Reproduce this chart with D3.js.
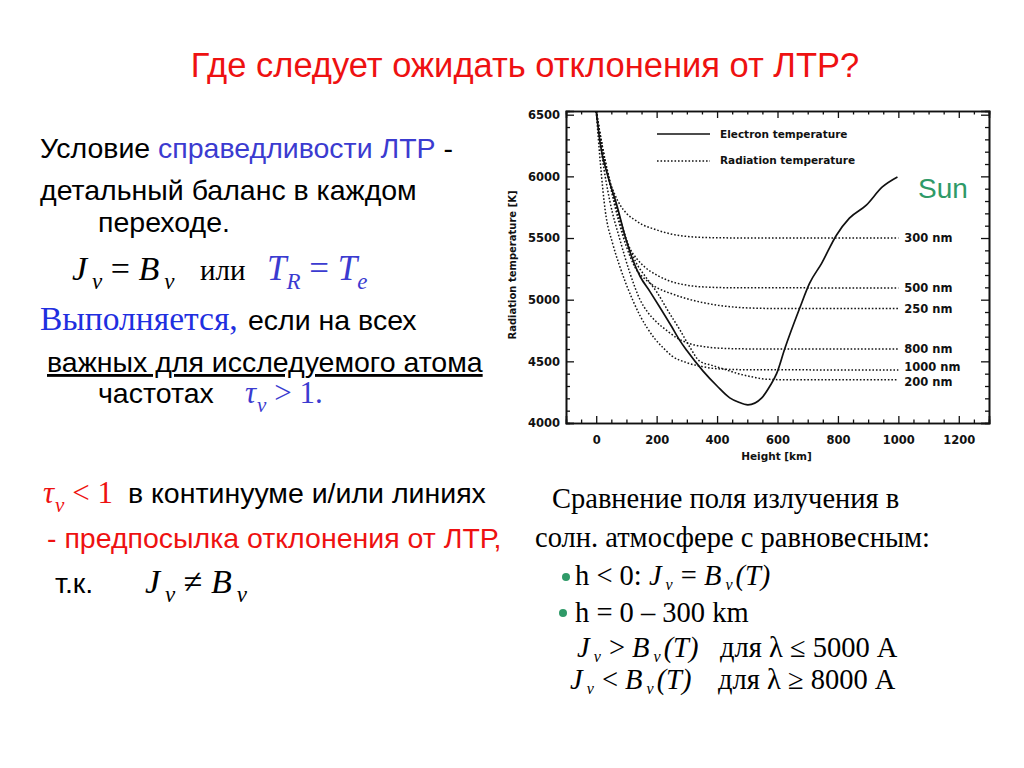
<!DOCTYPE html>
<html>
<head>
<meta charset="utf-8">
<script src="https://cdn.jsdelivr.net/npm/d3@7"></script>
<style>
  body { margin: 0; background: #fff; }
  svg { display: block; }
</style>
</head>
<body>
<div id="slide"></div>
<script>
// axis ticks
const xTicks = [0, 200, 400, 600, 800, 1000, 1200];
const yTicks = [4000, 4500, 5000, 5500, 6000, 6500];

// electron temperature [height km, T K]
const electronTemp = [
  [0, 6530], [13, 6270], [40, 5990], [69, 5760], [96, 5510], [120, 5330], [145, 5190],
  [178, 5065], [211, 4937], [250, 4780], [277, 4668], [300, 4587], [353, 4423],
  [400, 4300], [442, 4204], [470, 4170], [502, 4147], [548, 4204], [575, 4300],
  [597, 4400], [624, 4602], [673, 4928], [706, 5132], [746, 5295], [795, 5523],
  [838, 5661], [894, 5767], [947, 5914], [997, 5995]
];

// radiation temperatures at several wavelengths
const rad300 = [[0, 6530], [20, 6210], [45, 5960], [62, 5850], [80, 5765], [100, 5700], [129, 5645],
  [155, 5605], [185, 5578], [220, 5550], [251, 5531], [300, 5513], [350, 5505], [450, 5501], [1000, 5500]];
const rad500 = [[0, 6530], [20, 6250], [45, 5960], [75, 5660], [106, 5440], [135, 5330], [162, 5262],
  [200, 5200], [238, 5156], [290, 5122], [350, 5104], [450, 5097], [1000, 5095]];
const rad250 = [[0, 6530], [20, 6240], [45, 5940], [75, 5630], [100, 5430], [129, 5260], [165, 5160],
  [205, 5092], [250, 5048], [294, 5012], [350, 4978], [403, 4955], [515, 4932], [620, 4928], [1000, 4928]];
const rad800 = [[0, 6530], [20, 6150], [45, 5800], [79, 5482], [112, 5213], [145, 5000], [170, 4900],
  [195, 4830], [234, 4749], [267, 4690], [310, 4643], [360, 4618], [400, 4608], [500, 4601], [1000, 4600]];
const rad1000 = [[0, 6530], [14, 6100], [30, 5720], [55, 5450], [78, 5270], [100, 5120], [122, 4990],
  [145, 4870], [168, 4774], [195, 4680], [221, 4611], [250, 4545], [300, 4489], [350, 4458], [400, 4440],
  [500, 4432], [1000, 4430]];
const rad200 = [[0, 6530], [20, 6240], [45, 5950], [75, 5690], [101, 5482], [130, 5310], [165, 5180],
  [201, 5060], [240, 4900], [277, 4755], [310, 4615], [343, 4500], [380, 4470], [419, 4440], [470, 4400],
  [520, 4372], [564, 4355], [650, 4350], [1000, 4350]];

const radLabels = ["300 nm", "500 nm", "250 nm", "800 nm", "1000 nm", "200 nm"];
const radSeries = [rad300, rad500, rad250, rad800, rad1000, rad200];

const SANS = "Liberation Sans, Arial, sans-serif";
const SERIF = "Liberation Serif, Times New Roman, serif";
const PLOT = "DejaVu Sans, sans-serif";
const BLUE = "#3b3bd0";
const RED = "#ee1111";
const GREEN = "#2f9a68";

const svg = d3.select("#slide").append("svg")
  .attr("width", 1024).attr("height", 768);
svg.append("rect").attr("width", 1024).attr("height", 768).attr("fill", "#fff");

// ---------- chart ----------
const x = d3.scaleLinear().domain([-100, 1300]).range([566, 989]);
const y = d3.scaleLinear().domain([4000, 6530]).range([423, 111]);

const chart = svg.append("g");

chart.append("defs").append("clipPath").attr("id", "plotclip")
  .append("rect")
  .attr("x", x.range()[0]).attr("y", y.range()[1])
  .attr("width", x.range()[1] - x.range()[0])
  .attr("height", y.range()[0] - y.range()[1]);

const minorX = d3.range(-50, 1300, 50).filter(d => d % 200 !== 0);
const minorY = d3.range(4100, 6530, 100).filter(d => d % 500 !== 0);

function styleAxis(g) {
  g.selectAll("path.domain").attr("stroke", "#111").attr("stroke-width", 1.6);
  g.selectAll(".tick line").attr("stroke", "#111").attr("stroke-width", 1.3);
  g.selectAll(".tick text").attr("font-family", PLOT).attr("font-weight", "bold")
    .attr("font-size", 11.5).attr("fill", "#111");
}

chart.append("g").attr("transform", `translate(0,${y.range()[0]})`)
  .call(d3.axisBottom(x).tickValues(xTicks).tickSize(-7).tickPadding(13).tickFormat(d3.format("d")))
  .call(styleAxis);
chart.append("g").attr("transform", `translate(0,${y.range()[0]})`)
  .call(d3.axisBottom(x).tickValues(minorX).tickSize(-3.5).tickFormat(""))
  .call(styleAxis);
chart.append("g").attr("transform", `translate(0,${y.range()[1]})`)
  .call(d3.axisTop(x).tickValues(xTicks).tickSize(-7).tickFormat(""))
  .call(styleAxis);
chart.append("g").attr("transform", `translate(0,${y.range()[1]})`)
  .call(d3.axisTop(x).tickValues(minorX).tickSize(-3.5).tickFormat(""))
  .call(styleAxis);

chart.append("g").attr("transform", `translate(${x.range()[0]},0)`)
  .call(d3.axisLeft(y).tickValues(yTicks).tickSize(-8).tickPadding(6).tickFormat(d3.format("d")))
  .call(styleAxis);
chart.append("g").attr("transform", `translate(${x.range()[0]},0)`)
  .call(d3.axisLeft(y).tickValues(minorY).tickSize(-4).tickFormat(""))
  .call(styleAxis);
chart.append("g").attr("transform", `translate(${x.range()[1]},0)`)
  .call(d3.axisRight(y).tickValues(yTicks).tickSize(-8).tickFormat(""))
  .call(styleAxis);
chart.append("g").attr("transform", `translate(${x.range()[1]},0)`)
  .call(d3.axisRight(y).tickValues(minorY).tickSize(-4).tickFormat(""))
  .call(styleAxis);

const line = d3.line()
  .x(d => x(d[0]))
  .y(d => y(d[1]))
  .curve(d3.curveMonotoneX);

const curves = chart.append("g").attr("clip-path", "url(#plotclip)");

curves.selectAll("path.rad")
  .data(radSeries)
  .join("path")
  .attr("class", "rad")
  .attr("d", line)
  .attr("fill", "none")
  .attr("stroke", "#151515")
  .attr("stroke-width", 1.5)
  .attr("stroke-dasharray", "1.6,1.9");

curves.append("path")
  .datum(electronTemp)
  .attr("d", line)
  .attr("fill", "none")
  .attr("stroke", "#111")
  .attr("stroke-width", 1.7);

// wavelength labels at the end of each plateau
const labelNudge = { "1000 nm": -3, "200 nm": 2 };
chart.selectAll("text.wl")
  .data(radSeries)
  .join("text")
  .attr("class", "wl")
  .attr("x", d => x(d[d.length - 1][0]) + 6)
  .attr("y", (d, i) => y(d[d.length - 1][1]) + 4 + (labelNudge[radLabels[i]] || 0))
  .attr("font-family", PLOT).attr("font-weight", "bold").attr("font-size", 11.5)
  .attr("fill", "#111")
  .text((d, i) => radLabels[i]);

// legend
const legend = chart.append("g").attr("font-family", PLOT).attr("font-weight", "bold")
  .attr("font-size", 10.5).attr("fill", "#111");
legend.append("line").attr("x1", 657).attr("x2", 710).attr("y1", 134).attr("y2", 134)
  .attr("stroke", "#111").attr("stroke-width", 1.4);
legend.append("line").attr("x1", 657).attr("x2", 710).attr("y1", 161).attr("y2", 161)
  .attr("stroke", "#151515").attr("stroke-width", 1.4).attr("stroke-dasharray", "1.6,1.9");
legend.append("text").attr("x", 720).attr("y", 138).text("Electron temperature");
legend.append("text").attr("x", 720).attr("y", 164).text("Radiation temperature");

chart.append("text")
  .attr("x", (x(-100) + x(1300)) / 2 - 1).attr("y", 460)
  .attr("text-anchor", "middle")
  .attr("font-family", PLOT).attr("font-weight", "bold").attr("font-size", 10.5).attr("fill", "#111")
  .text("Height [km]");
chart.append("text")
  .attr("transform", `translate(516,${(y(4000) + y(6530)) / 2 - 2}) rotate(-90)`)
  .attr("text-anchor", "middle")
  .attr("font-family", PLOT).attr("font-weight", "bold").attr("font-size", 10).attr("fill", "#111")
  .text("Radiation temperature [K]");

svg.append("text").attr("x", 918).attr("y", 198)
  .attr("font-family", SANS).attr("font-size", 28).attr("fill", GREEN)
  .text("Sun");

// ---------- slide text ----------
const TS = 28.5;   // body sans size
const MS = 34;     // math size

function richLine(px, py, parts) {
  const t = svg.append("text").attr("x", px).attr("y", py);
  let shift = 0;
  parts.forEach(p => {
    const s = t.append("tspan").text(p.t);
    const target = p.sub || 0;
    if (target !== shift) { s.attr("dy", target - shift); shift = target; }
    if (p.dx) s.attr("dx", p.dx);
    s.attr("font-family", p.f || SANS)
      .attr("font-size", p.s || TS)
      .attr("fill", p.c || "#000");
    if (p.i) s.attr("font-style", "italic");
    if (p.u) s.attr("text-decoration", "underline");
  });
  return t;
}

richLine(525, 77, [{ t: "Где следует ожидать отклонения от ЛТР?", s: 34.5, c: RED }])
  .attr("text-anchor", "middle");

richLine(40, 158, [{ t: "Условие " }, { t: "справедливости ЛТР", c: BLUE }, { t: " -" }]);
richLine(40, 200, [{ t: "детальный баланс в каждом" }]);
richLine(98, 232, [{ t: "переходе." }]);

richLine(72, 280, [
  { t: "J", f: SERIF, s: MS, i: true },
  { t: "ν", f: SERIF, s: 23, i: true, sub: 9, dx: 5 },
  { t: " = ", f: SERIF, s: MS },
  { t: "B", f: SERIF, s: MS, i: true },
  { t: "ν", f: SERIF, s: 23, i: true, sub: 9, dx: 5 }
]);
richLine(200, 280, [{ t: "или", f: SERIF, s: 29 }]);
richLine(267, 280, [
  { t: "T", f: SERIF, s: 35, i: true, c: BLUE },
  { t: "R", f: SERIF, s: 23, i: true, c: BLUE, sub: 9 },
  { t: " = ", f: SERIF, s: 35, c: BLUE },
  { t: "T", f: SERIF, s: 35, i: true, c: BLUE },
  { t: "e", f: SERIF, s: 23, i: true, c: BLUE, sub: 9 }
]);

richLine(40, 330, [{ t: "Выполняется,", f: SERIF, s: 33.5, c: "#1f2fe0" }]);
richLine(248, 330, [{ t: "если на всех" }]);
richLine(47, 372, [{ t: "важных для исследуемого атома", u: true }]);
richLine(98, 403, [{ t: "частотах" }]);
richLine(245, 403, [
  { t: "τ", f: SERIF, s: 31, i: true, c: BLUE },
  { t: "ν", f: SERIF, s: 21, i: true, c: BLUE, sub: 9, dx: 1 },
  { t: " > 1.", f: SERIF, s: 31, c: BLUE }
]);

richLine(43, 503, [
  { t: "τ", f: SERIF, s: 31, i: true, c: RED },
  { t: "ν", f: SERIF, s: 21, i: true, c: RED, sub: 9, dx: 1 },
  { t: " < 1", f: SERIF, s: 31, c: RED }
]);
richLine(128, 503, [{ t: "в континууме и/или линиях" }]);
richLine(47, 548, [{ t: "- предпосылка отклонения от ЛТР,", c: RED }]);
richLine(55, 593, [{ t: "т.к." }]);
richLine(145, 593, [
  { t: "J", f: SERIF, s: MS, i: true },
  { t: "ν", f: SERIF, s: 23, i: true, sub: 9, dx: 5 },
  { t: " ≠ ", f: SERIF, s: MS },
  { t: "B", f: SERIF, s: MS, i: true },
  { t: "ν", f: SERIF, s: 23, i: true, sub: 9, dx: 5 }
]);

const RS = 28.5;
richLine(552, 508, [{ t: "Сравнение поля излучения в", f: SERIF, s: RS }]);
richLine(535, 547, [{ t: "солн. атмосфере с равновесным:", f: SERIF, s: RS }]);

svg.append("circle").attr("cx", 566).attr("cy", 577).attr("r", 4).attr("fill", GREEN);
svg.append("circle").attr("cx", 563).attr("cy", 613).attr("r", 4).attr("fill", GREEN);

function jbParts(rel) {
  return [
    { t: "J", f: SERIF, s: RS, i: true },
    { t: "ν", f: SERIF, s: 16, i: true, sub: 5, dx: 4 },
    { t: " " + rel + " ", f: SERIF, s: RS, dx: 1 },
    { t: "B", f: SERIF, s: RS, i: true },
    { t: "ν", f: SERIF, s: 16, i: true, sub: 5, dx: 4 },
    { t: "(T)", f: SERIF, s: RS, i: true, dx: 3 }
  ];
}

richLine(575, 585, [{ t: "h < 0: ", f: SERIF, s: RS }].concat(jbParts("=")));
richLine(575, 622, [{ t: "h = 0 – 300 km", f: SERIF, s: RS }]);
richLine(577, 657, jbParts(">"));
richLine(720, 657, [{ t: "для λ ≤ 5000 A", f: SERIF, s: RS }]);
richLine(570, 689, jbParts("<"));
richLine(718, 689, [{ t: "для λ ≥ 8000 A", f: SERIF, s: RS }]);
</script>
</body>
</html>
